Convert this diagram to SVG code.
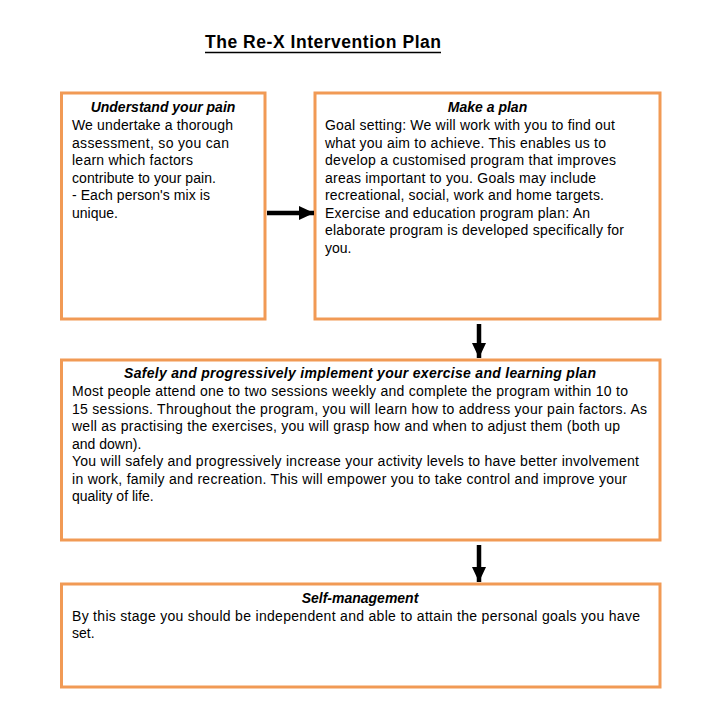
<svg xmlns="http://www.w3.org/2000/svg" width="718" height="719" viewBox="0 0 718 719">
<defs>
<style>
.box{fill:#fff;stroke:#F19A55;stroke-width:3}
.t{font-family:"Liberation Sans",Arial,sans-serif;font-size:14px;fill:#000}
.h{font-family:"Liberation Sans",Arial,sans-serif;font-size:14px;font-weight:bold;font-style:italic;fill:#000;text-anchor:middle}
.title{font-family:"Liberation Sans",Arial,sans-serif;font-size:17.5px;font-weight:bold;fill:#000}
.conn{stroke:#000;stroke-width:4.5;fill:none}
</style>
<marker id="ah" markerUnits="userSpaceOnUse" markerWidth="16" markerHeight="14" refX="15" refY="7" orient="auto">
<path d="M0,0 L15,7 L0,14 Z" fill="#000"/>
</marker>
</defs>
<rect width="718" height="719" fill="#fff"/>
<g id="title">
<text class="title" x="205" y="48" textLength="236">The Re-X Intervention Plan</text>
<line x1="205" y1="52.5" x2="441" y2="52.5" stroke="#000" stroke-width="1.6"/>
</g>
<g id="node-understand">
<rect class="box" x="61.5" y="93" width="203.5" height="226"/>
<text class="h" x="163" y="112">Understand your pain</text>
<text class="t" x="72" y="130" textLength="161">We undertake a thorough</text>
<text class="t" x="72" y="147.5" textLength="157">assessment, so you can</text>
<text class="t" x="72" y="165" textLength="121">learn which factors</text>
<text class="t" x="72" y="182.5" textLength="144">contribute to your pain.</text>
<text class="t" x="72" y="200" textLength="138">- Each person's mix is</text>
<text class="t" x="72" y="217.5">unique.</text>
</g>
<g id="node-plan">
<rect class="box" x="315" y="93" width="345" height="226"/>
<text class="h" x="487.5" y="112">Make a plan</text>
<text class="t" x="325" y="130" textLength="290">Goal setting: We will work with you to find out</text>
<text class="t" x="325" y="147.5" textLength="281">what you aim to achieve. This enables us to</text>
<text class="t" x="325" y="165" textLength="291">develop a customised program that improves</text>
<text class="t" x="325" y="182.5" textLength="271">areas important to you. Goals may include</text>
<text class="t" x="325" y="200" textLength="279">recreational, social, work and home targets.</text>
<text class="t" x="325" y="217.5" textLength="265">Exercise and education program plan: An</text>
<text class="t" x="325" y="235" textLength="299">elaborate program is developed specifically for</text>
<text class="t" x="325" y="252.5">you.</text>
</g>
<g id="node-implement">
<rect class="box" x="61.5" y="360" width="598.5" height="180"/>
<text class="h" x="360" y="378" textLength="472">Safely and progressively implement your exercise and learning plan</text>
<text class="t" x="72" y="396" textLength="556">Most people attend one to two sessions weekly and complete the program within 10 to</text>
<text class="t" x="72" y="413.5" textLength="575">15 sessions. Throughout the program, you will learn how to address your pain factors. As</text>
<text class="t" x="72" y="431" textLength="548">well as practising the exercises, you will grasp how and when to adjust them (both up</text>
<text class="t" x="72" y="448.5">and down).</text>
<text class="t" x="72" y="466" textLength="567">You will safely and progressively increase your activity levels to have better involvement</text>
<text class="t" x="72" y="483.5" textLength="555">in work, family and recreation. This will empower you to take control and improve your</text>
<text class="t" x="72" y="501">quality of life.</text>
</g>
<g id="node-self">
<rect class="box" x="61.5" y="584" width="598.5" height="103"/>
<text class="h" x="360" y="603">Self-management</text>
<text class="t" x="72" y="620.5" textLength="568">By this stage you should be independent and able to attain the personal goals you have</text>
<text class="t" x="72" y="638">set.</text>
</g>
<g id="connectors">
<line class="conn" x1="267" y1="213" x2="314" y2="213" marker-end="url(#ah)"/>
<line class="conn" x1="479" y1="324" x2="479" y2="358" marker-end="url(#ah)"/>
<line class="conn" x1="479" y1="545" x2="479" y2="582" marker-end="url(#ah)"/>
</g>
</svg>
